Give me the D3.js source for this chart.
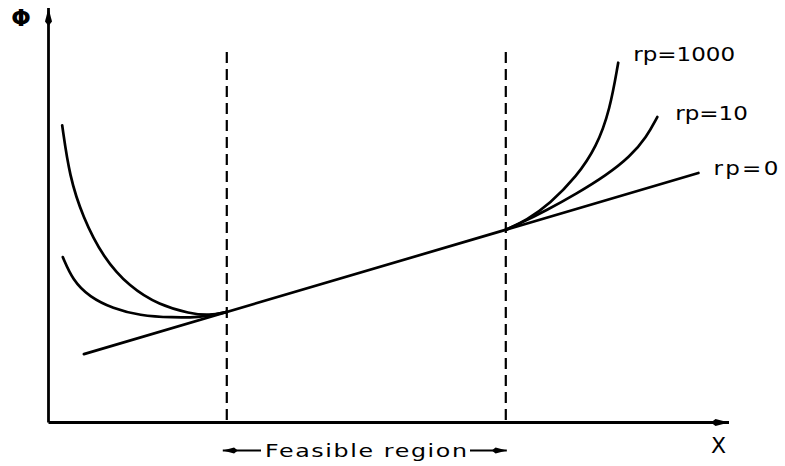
<!DOCTYPE html>
<html>
<head>
<meta charset="utf-8">
<script src="https://cdn.jsdelivr.net/npm/d3@7/dist/d3.min.js"></script>
<style>
  html, body { margin: 0; padding: 0; background: #fff; }
  svg { display: block; }
  text { font-family: "DejaVu Sans", sans-serif; fill: #000; }
</style>
</head>
<body>
<svg id="chart" width="785" height="466"></svg>
<script>
// Penalty function Φ(x) for several penalty weights rp
const rp0 = [[5.2, 16.5], [95.5, 60.2]];

const rp10Left = [
  [2.10, 39.9], [3.57, 34.3], [6.03, 30.3], [9.46, 27.5], [13.38, 25.8],
  [18.28, 25.3], [22.21, 25.4], [24.66, 26.1], [26.2, 26.68]
];
const rp1000Left = [
  [2.01, 71.7], [3.09, 59.3], [5.04, 49.6], [7.99, 39.9], [11.91, 32.7],
  [16.32, 28.3], [20.74, 26.3], [23.68, 25.8], [26.2, 26.68]
];
const rp10Right = [
  [67.2, 46.51], [69.26, 48.0], [73.19, 51.2], [77.6, 55.2], [82.01, 59.7],
  [85.44, 64.1], [87.9, 68.9], [89.46, 73.7]
];
const rp1000Right = [
  [67.2, 46.51], [70.25, 48.8], [73.68, 52.8], [77.6, 59.3], [80.54, 66.5],
  [82.5, 75.4], [83.72, 86.8]
];

// Feasible region boundaries (x)
const feasibleBounds = [26.2, 67.2];

const curveLabels = ["rp=1000", "rp=10", "rp=0"];
const axisLabels = { y: "Φ", x: "X" };
const regionLabel = "Feasible region";

const svg = d3.select("#chart");

const x = d3.scaleLinear().domain([0, 100]).range([48.5, 729]);
const y = d3.scaleLinear().domain([0, 100]).range([422.5, 8]);

// Arrowhead markers
const defs = svg.append("defs");
function arrowMarker(id, len, half) {
  defs.append("marker")
    .attr("id", id)
    .attr("markerUnits", "userSpaceOnUse")
    .attr("viewBox", `${-len - 2} ${-half - 1} ${len + 4} ${2 * half + 2}`)
    .attr("refX", 0).attr("refY", 0)
    .attr("markerWidth", len + 4).attr("markerHeight", 2 * half + 2)
    .attr("orient", "auto")
    .append("path")
    .attr("d", `M0,0 L${-len * 0.75},${-half} L${-len},0 L${-len * 0.75},${half} Z`)
    .attr("fill", "#000");
}
arrowMarker("axisArrow", 18, 3.5);
arrowMarker("smallArrow", 15, 3);

// Axes (no ticks)
const xAxis = d3.axisBottom(x).tickValues([]).tickSizeOuter(0);
const yAxis = d3.axisLeft(y).tickValues([]).tickSizeOuter(0);

const gx = svg.append("g").attr("transform", `translate(0,${y(0)})`).call(xAxis);
const gy = svg.append("g").attr("transform", `translate(${x(0)},0)`).call(yAxis);
[gx, gy].forEach(g => g.select(".domain")
  .attr("stroke", "#000").attr("stroke-width", 2.8)
  .attr("marker-end", "url(#axisArrow)"));
// draw the y-axis path upward so its arrow sits at the top
gy.select(".domain").attr("d", `M0,${y(0)}V${y(100)}`);
gx.select(".domain").attr("d", `M${x(0)},0H${x(100)}`);

svg.append("text")
  .attr("x", 21).attr("y", 26)
  .attr("text-anchor", "middle")
  .attr("font-size", 23).attr("font-weight", "bold")
  .text(axisLabels.y);

svg.append("text")
  .attr("x", 718.5).attr("y", 453)
  .attr("text-anchor", "middle")
  .attr("font-size", 22)
  .text(axisLabels.x);

// Feasible region boundaries
svg.selectAll("line.bound")
  .data(feasibleBounds)
  .join("line")
  .attr("class", "bound")
  .attr("x1", d => x(d)).attr("x2", d => x(d))
  .attr("y1", 52).attr("y2", y(0) - 2)
  .attr("stroke", "#000")
  .attr("stroke-width", 2.2)
  .attr("stroke-dasharray", "11,6");

// Curves
const line = d3.line()
  .x(d => x(d[0]))
  .y(d => y(d[1]))
  .curve(d3.curveBasis);

[rp0, rp10Left, rp1000Left, rp10Right, rp1000Right].forEach(data => {
  svg.append("path")
    .datum(data)
    .attr("d", line)
    .attr("fill", "none")
    .attr("stroke", "#000")
    .attr("stroke-width", 2.7)
    .attr("stroke-linecap", "round");
});

// Wide, plotter-like lettering
function wideText(px, py, str, size, len, sx) {
  const t = svg.append("text")
    .attr("transform", `translate(${px},${py}) scale(${sx},1)`)
    .attr("font-size", size)
    .text(str);
  if (len) t.attr("textLength", len / sx).attr("lengthAdjust", "spacing");
}

// Curve labels next to their right-hand ends
const labelEnds = [
  rp1000Right[rp1000Right.length - 1],
  rp10Right[rp10Right.length - 1],
  rp0[rp0.length - 1]
];
const labelOffsets = [[15, -2], [18, 2.5], [15, 2]];
const labelLengths = [null, null, 65];
curveLabels.forEach((t, i) => {
  wideText(x(labelEnds[i][0]) + labelOffsets[i][0],
           y(labelEnds[i][1]) + labelOffsets[i][1],
           t, 20, labelLengths[i], 1.15);
});

// Feasible region annotation with arrows to each boundary
const annY = 450.5;
svg.append("line")
  .attr("x1", 261).attr("x2", x(feasibleBounds[0]) - 4)
  .attr("y1", annY).attr("y2", annY)
  .attr("stroke", "#000").attr("stroke-width", 1.8)
  .attr("marker-end", "url(#smallArrow)");
svg.append("line")
  .attr("x1", 470).attr("x2", x(feasibleBounds[1]) + 1)
  .attr("y1", annY).attr("y2", annY)
  .attr("stroke", "#000").attr("stroke-width", 1.8)
  .attr("marker-end", "url(#smallArrow)");
wideText(265, 456.7, regionLabel, 18, 202, 1.32);
</script>
</body>
</html>
